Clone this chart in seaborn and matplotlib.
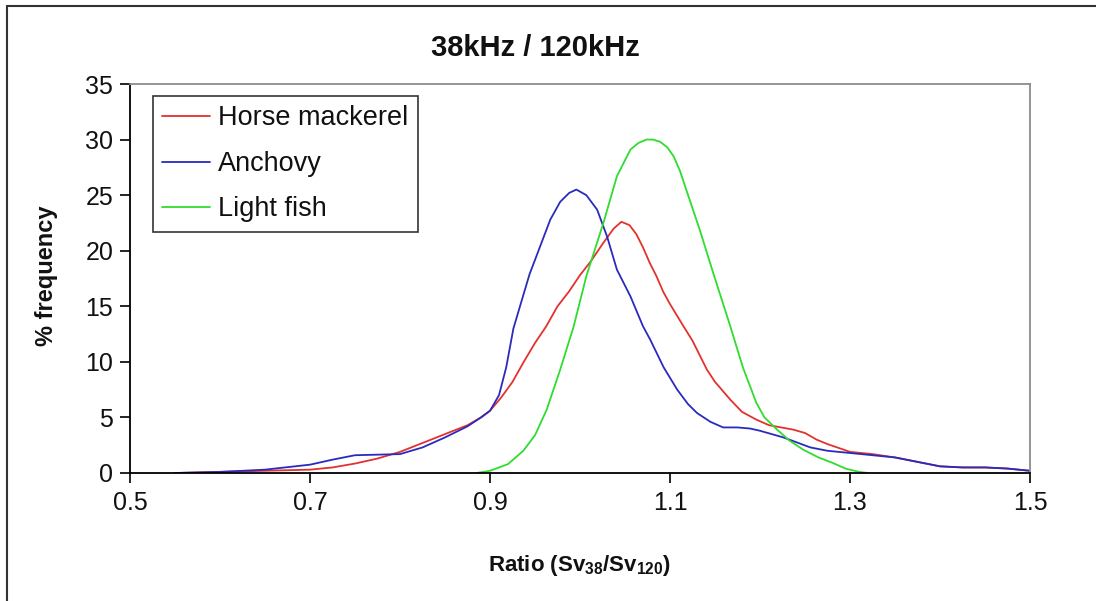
import matplotlib
matplotlib.use("Agg")
import matplotlib.pyplot as plt
import seaborn as sns
import pandas as pd
from matplotlib.patches import Rectangle

# ---- data ----
hm_ratio = [0.55, 0.6, 0.65, 0.7, 0.725, 0.75, 0.775, 0.8, 0.825, 0.85,
            0.875, 0.89, 0.9, 0.9125, 0.925, 0.9375, 0.95, 0.9625, 0.975, 0.9875,
            1.0, 1.0125, 1.025, 1.0375, 1.046, 1.055, 1.0625, 1.07, 1.0775, 1.085,
            1.0925, 1.1, 1.115, 1.125, 1.141, 1.15, 1.167, 1.18, 1.196, 1.21,
            1.237, 1.25, 1.263, 1.275, 1.293, 1.3, 1.325, 1.35, 1.375, 1.4,
            1.425, 1.45, 1.475, 1.5]
horse_mackerel = [0.0, 0.1, 0.2, 0.3, 0.5, 0.85, 1.3, 1.9, 2.7, 3.5,
                  4.3, 5.0, 5.6, 6.8, 8.2, 10.0, 11.7, 13.2, 15.0, 16.3,
                  17.8, 19.1, 20.6, 22.0, 22.6, 22.3, 21.5, 20.3, 18.9, 17.7,
                  16.3, 15.2, 13.2, 11.9, 9.3, 8.2, 6.6, 5.5, 4.8, 4.3,
                  3.9, 3.6, 3.0, 2.6, 2.1, 1.9, 1.7, 1.4, 1.0, 0.6,
                  0.5, 0.5, 0.4, 0.2]

an_ratio = [0.55, 0.6, 0.65, 0.7, 0.725, 0.75, 0.775, 0.8, 0.825, 0.85,
            0.875, 0.89, 0.9, 0.91, 0.918, 0.926, 0.937, 0.944, 0.952, 0.967,
            0.978, 0.988, 0.996, 1.007, 1.019, 1.03, 1.041, 1.056, 1.07, 1.078,
            1.093, 1.108, 1.12, 1.13, 1.145, 1.159, 1.175, 1.189, 1.2, 1.226,
            1.256, 1.275, 1.3, 1.325, 1.35, 1.375, 1.4, 1.425, 1.45, 1.475,
            1.5]
anchovy = [0.0, 0.1, 0.3, 0.75, 1.2, 1.6, 1.65, 1.7, 2.3, 3.2,
           4.2, 5.0, 5.6, 7.0, 9.5, 13.0, 16.0, 17.9, 19.6, 22.8,
           24.4, 25.2, 25.5, 25.0, 23.7, 21.3, 18.3, 15.9, 13.2, 12.0,
           9.5, 7.5, 6.2, 5.4, 4.6, 4.1, 4.1, 4.0, 3.8, 3.2,
           2.3, 2.0, 1.8, 1.6, 1.4, 1.0, 0.6, 0.5, 0.5, 0.4,
           0.2]

lf_ratio = [0.885, 0.9, 0.92, 0.937, 0.95, 0.963, 0.978, 0.993, 1.007, 1.026,
            1.041, 1.056, 1.065, 1.074, 1.081, 1.089, 1.097, 1.104, 1.111, 1.118,
            1.133, 1.148, 1.167, 1.181, 1.196, 1.205, 1.219, 1.233, 1.248, 1.265,
            1.281, 1.295, 1.31, 1.32]
light_fish = [0.0, 0.2, 0.8, 2.0, 3.4, 5.7, 9.3, 13.2, 17.7, 22.5,
              26.7, 29.1, 29.7, 30.0, 30.0, 29.8, 29.3, 28.5, 27.2, 25.5,
              21.9, 18.0, 13.2, 9.5, 6.3, 5.0, 3.9, 2.9, 2.1, 1.4,
              0.9, 0.4, 0.1, 0.0]

series_names = ["Horse mackerel", "Anchovy", "Light fish"]
series_colors = ["#e3312e", "#2a2abf", "#2fdc2f"]
x_ticks = [0.5, 0.7, 0.9, 1.1, 1.3, 1.5]
y_ticks = [0, 5, 10, 15, 20, 25, 30, 35]

df = pd.concat([
    pd.DataFrame({"ratio": hm_ratio, "freq": horse_mackerel, "species": series_names[0]}),
    pd.DataFrame({"ratio": an_ratio, "freq": anchovy, "species": series_names[1]}),
    pd.DataFrame({"ratio": lf_ratio, "freq": light_fish, "species": series_names[2]}),
], ignore_index=True)

sns.set_theme(style="white")
plt.rcParams['font.family'] = ['Liberation Sans', 'DejaVu Sans']
plt.rcParams['mathtext.fontset'] = 'custom'
plt.rcParams['mathtext.rm'] = 'Liberation Sans:bold'
plt.rcParams['mathtext.bf'] = 'Liberation Sans:bold'

fig = plt.figure(figsize=(10.96, 6.01), dpi=100)
ax = fig.add_axes([130/1096, 1-473/601, 900/1096, 389/601])

sns.lineplot(data=df, x="ratio", y="freq", hue="species",
             hue_order=series_names, palette=series_colors,
             linewidth=1.3, ax=ax, sort=True, estimator=None)
for ln in ax.get_lines():
    ln.set_solid_joinstyle("round")

ax.set_xlim(0.5, 1.5)
ax.set_ylim(0, 35)
ax.set_xticks(x_ticks)
ax.set_xticklabels([f"{v:.1f}" for v in x_ticks])
ax.set_yticks(y_ticks)
ax.tick_params(axis="both", which="major", direction="out", length=7,
               width=1.2, color="black", labelsize=18, labelcolor="#111111",
               left=True, bottom=True)
ax.tick_params(axis="x", pad=6)
ax.tick_params(axis="y", pad=5)
ax.set_xlabel("")
ax.set_ylabel("")

for side in ["left", "bottom"]:
    ax.spines[side].set_color("black")
    ax.spines[side].set_linewidth(1.3)
for side in ["top", "right"]:
    ax.spines[side].set_color("#8c8c8c")
    ax.spines[side].set_linewidth(1.3)
ax.grid(False)

leg = ax.legend(loc="upper left", bbox_to_anchor=(23/900, 1-12/389),
                fontsize=19.5, frameon=True, fancybox=False, handlelength=1.75,
                handletextpad=0.3, labelspacing=0.72, borderpad=0.35,
                borderaxespad=0)
leg.get_frame().set_edgecolor("black")
leg.get_frame().set_linewidth(1.2)
for h in leg.get_lines():
    h.set_linewidth(1.3)
for t in leg.get_texts():
    t.set_color("#111111")

fig.text(535/1096, 1-48/601, "38kHz / 120kHz", ha="center", va="center",
         fontsize=21, fontweight="bold", color="#111111")
fig.text(580/1096, 1-565/601, r"Ratio (Sv$_{38}$/Sv$_{120}$)", ha="center",
         va="center", fontsize=16, fontweight="bold", color="#111111")
fig.text(47/1096, 1-276/601, "% frequency", ha="center", va="center",
         rotation=90, fontsize=17, fontweight="bold", color="#111111")

fig.patches.append(Rectangle((7/1096, -0.1), 1.2, 1.1 - 6/601,
                             transform=fig.transFigure, fill=False,
                             edgecolor="#333333", linewidth=1.5))

fig.savefig("out.png", dpi=100, facecolor="white")
